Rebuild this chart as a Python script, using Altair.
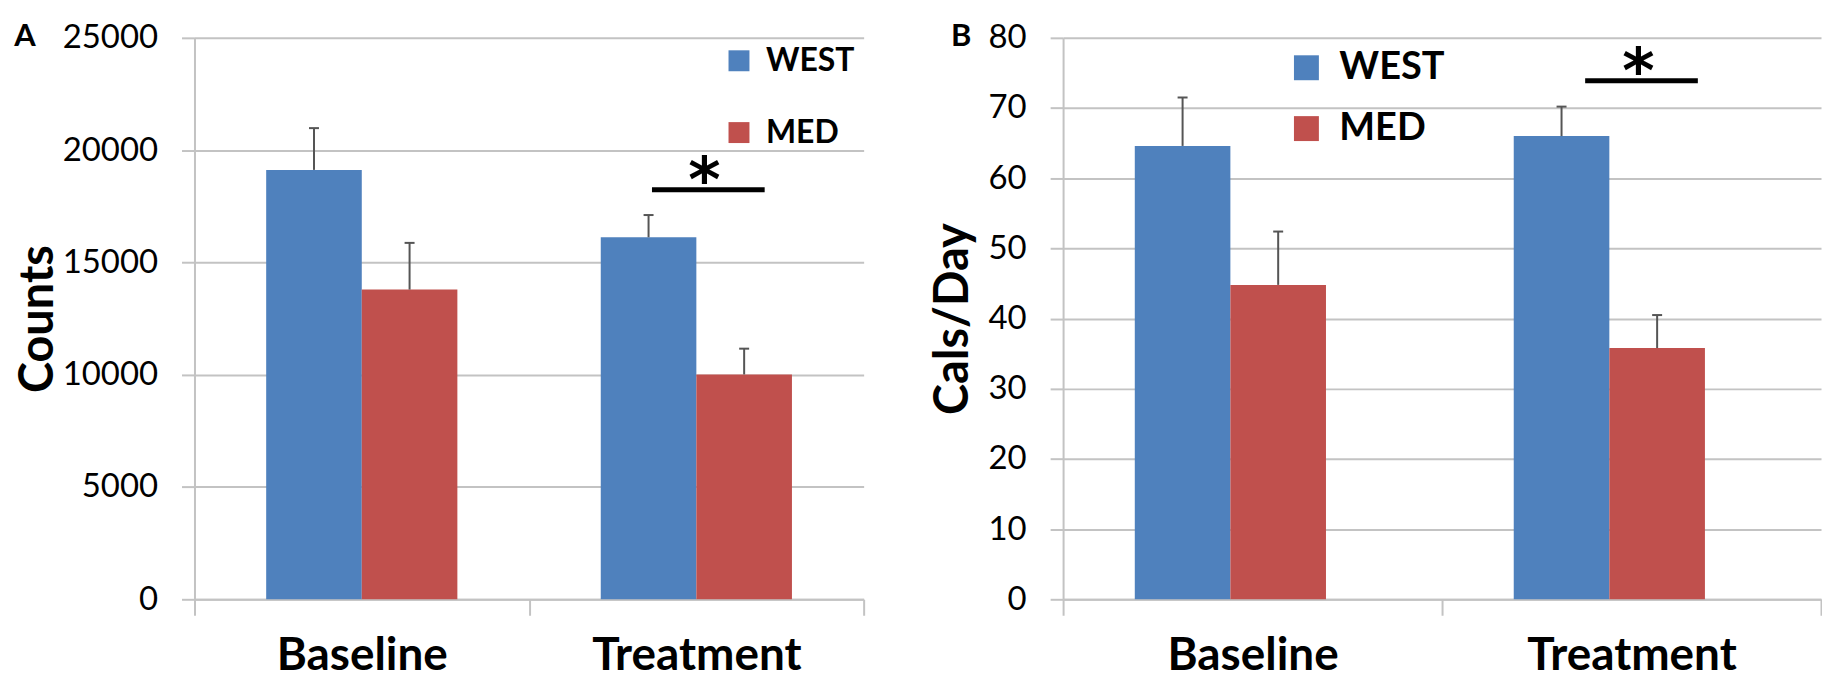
import altair as alt
import pandas as pd

categories = ["Baseline", "Treatment"]
groups = ["WEST", "MED"]

counts_west = [19120, 16120]
counts_west_err = [1860, 990]
counts_med = [13790, 10010]
counts_med_err = [2080, 1150]

cals_west = [64.6, 66.0]
cals_west_err = [6.9, 4.2]
cals_med = [44.8, 35.8]
cals_med_err = [7.6, 4.7]

sig_category = ["Treatment"]
counts_sig_y = [18240]
cals_sig_y = [73.9]

panel_labels = ["A", "B"]
y_titles = ["Counts", "Cals/Day"]

BLUE = "#4F81BD"
RED = "#C0504D"
GRID = "#C3C3C3"
ERR = "#555555"
FONT = "Lato"


def build_df(west, west_err, med, med_err):
    rows = []
    for i, c in enumerate(categories):
        rows.append({"cat": c, "group": "WEST", "value": west[i], "top": west[i] + west_err[i]})
        rows.append({"cat": c, "group": "MED", "value": med[i], "top": med[i] + med_err[i]})
    return pd.DataFrame(rows)


def panel(df, sig_y, letter, ytitle, ymax, ystep, width, height, leg, line_dx, star_dx, off_pad, tpad, ldx):
    xscale = alt.Scale(domain=categories, paddingInner=0, paddingOuter=0)
    xoff = alt.XOffset("group:N", sort=groups,
                       scale=alt.Scale(domain=groups, paddingInner=0, paddingOuter=off_pad))
    yscale = alt.Scale(domain=[0, ymax], nice=False)
    x_axis = alt.Axis(
        title=None, labelAngle=0, labelFont=FONT, labelFontWeight="bold", labelFontSize=46,
        labelColor="black", labelPadding=18, labelLimit=0, tickBand="extent", tickSize=16,
        tickColor=GRID, tickWidth=2, domainColor=GRID, domainWidth=2, grid=False,
    )
    y_axis = alt.Axis(
        title=ytitle, titleFont=FONT, titleFontWeight="bold", titleFontSize=47, titleColor="black",
        titlePadding=tpad, labelFont=FONT, labelFontSize=33, labelColor="black", labelPadding=24,
        tickSize=13, tickColor=GRID, tickWidth=2, domainColor=GRID, domainWidth=2,
        gridColor=GRID, gridWidth=2, values=list(range(0, ymax + 1, ystep)), format="d",
    )
    base = alt.Chart(df)
    bars = base.mark_bar(opacity=1).encode(
        x=alt.X("cat:N", sort=categories, scale=xscale, axis=x_axis),
        xOffset=xoff,
        y=alt.Y("value:Q", scale=yscale, axis=y_axis),
        color=alt.Color(
            "group:N",
            scale=alt.Scale(domain=groups, range=[BLUE, RED]),
            legend=alt.Legend(
                title=None, orient="none", legendX=leg["x"], legendY=leg["y"], padding=0,
                symbolType="square", symbolSize=leg["sym"], symbolStrokeWidth=0, symbolOpacity=1,
                labelFont=FONT, labelFontWeight="bold", labelFontSize=leg["fs"],
                labelColor="black", labelOffset=leg["off"], rowPadding=leg["row"],
            ),
        ),
    )
    err = base.mark_rule(color=ERR, strokeWidth=2, opacity=1).encode(
        x=alt.X("cat:N", sort=categories, scale=xscale),
        xOffset=xoff,
        y=alt.Y("value:Q", scale=yscale),
        y2="top:Q",
    )
    caps = base.mark_tick(color=ERR, size=10, thickness=2, orient="horizontal", opacity=1).encode(
        x=alt.X("cat:N", sort=categories, scale=xscale),
        xOffset=xoff,
        y=alt.Y("top:Q", scale=yscale),
    )
    sig_df = pd.DataFrame({"cat": sig_category, "y": sig_y})
    sig = alt.Chart(sig_df)
    line = sig.mark_tick(color="black", size=113, thickness=5, orient="horizontal",
                         opacity=1, xOffset=line_dx).encode(
        x=alt.X("cat:N", sort=categories, scale=xscale),
        y=alt.Y("y:Q", scale=yscale),
    )
    star = sig.mark_text(text="*", font="DejaVu Sans", fontWeight="bold", fontSize=62,
                         baseline="alphabetic", dx=star_dx, dy=11, color="black").encode(
        x=alt.X("cat:N", sort=categories, scale=xscale),
        y=alt.Y("y:Q", scale=yscale),
    )
    return alt.layer(bars, err, caps, line, star).properties(
        width=width, height=height,
        title=alt.TitleParams(letter, anchor="start", frame="bounds", font=FONT, fontWeight="bold",
                              fontSize=31, color="black", offset=0, dy=31, dx=ldx),
    )


df_a = build_df(counts_west, counts_west_err, counts_med, counts_med_err)
df_b = build_df(cals_west, cals_west_err, cals_med, cals_med_err)

pa = panel(df_a, counts_sig_y, panel_labels[0], y_titles[0], 25000, 5000, 671, 563,
           {"x": 530, "y": 7, "sym": 441, "fs": 32, "off": 11, "row": 40}, 12, 8, 0.75, 0, 0)
pb = panel(df_b, cals_sig_y, panel_labels[1], y_titles[1], 80, 10, 760, 563,
           {"x": 225, "y": 11, "sym": 625, "fs": 38, "off": 14, "row": 23}, 10, 7, 0.76, 11, 22)

chart = (
    alt.hconcat(pa, pb, spacing=64)
    .resolve_scale(color="independent")
    .resolve_legend(color="independent")
    .properties(padding={"left": 6, "top": 12, "right": 0, "bottom": 0})
    .configure_view(stroke=None)
)

chart.save("out.html", embed_options={"renderer": "svg", "actions": False})
